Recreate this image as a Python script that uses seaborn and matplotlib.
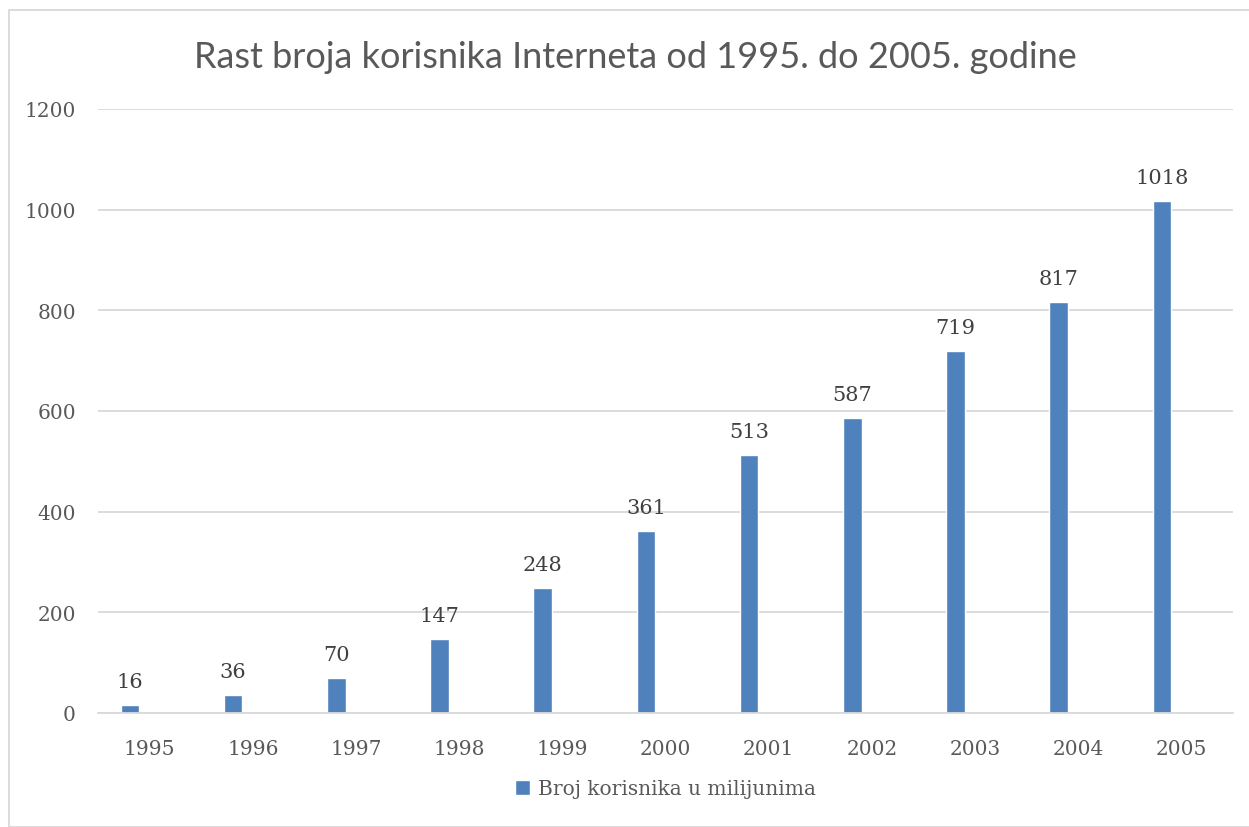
import matplotlib
matplotlib.use("Agg")
import matplotlib.pyplot as plt
import seaborn as sns
import pandas as pd
from matplotlib.patches import Rectangle

# Data
years = ["1995", "1996", "1997", "1998", "1999", "2000",
         "2001", "2002", "2003", "2004", "2005"]
users = [16, 36, 70, 147, 248, 361, 513, 587, 719, 817, 1018]
series_name = "Broj korisnika u milijunima"
title = "Rast broja korisnika Interneta od 1995. do 2005. godine"

df = pd.DataFrame({"Godina": years, "Korisnici": users})

BAR_COLOR = "#4f81bd"
TEXT_COLOR = "#595959"
GRID_COLOR = "#d9d9d9"

sns.set_style("white")
plt.rcParams["font.family"] = ["DejaVu Serif"]

fig = plt.figure(figsize=(12.49, 8.28), dpi=100)
ax = fig.add_axes([98 / 1249, 114 / 828, 1135 / 1249, 604 / 828])

bar_w = 0.18
sns.barplot(data=df, x="Godina", y="Korisnici", color=BAR_COLOR,
            width=bar_w, saturation=1, ax=ax, label=series_name)

# Excel-style offset: bars sit left of the category centre
for p in ax.patches:
    p.set_x(p.get_x() - 0.19)

for p, v in zip(ax.patches, users):
    ax.annotate(str(v), (p.get_x() + p.get_width() / 2, p.get_height()),
                xytext=(0, 10), textcoords="offset points",
                ha="center", va="bottom", fontsize=15, color="#404040")

ax.set_xlim(-0.5, len(years) - 0.5)
ax.set_ylim(0, 1200)
ax.set_yticks(range(0, 1201, 200))
ax.yaxis.grid(True, color=GRID_COLOR, linewidth=1.3)
ax.set_axisbelow(True)
for s in ["top", "right", "left"]:
    ax.spines[s].set_visible(False)
ax.spines["bottom"].set_color(GRID_COLOR)
ax.spines["bottom"].set_linewidth(1.3)
ax.tick_params(axis="both", length=0, labelsize=14.5, labelcolor=TEXT_COLOR)
ax.tick_params(axis="x", pad=19)
ax.tick_params(axis="y", pad=16)
ax.set_xlabel("")
ax.set_ylabel("")

fig.text(635 / 1249, 1 - 57 / 828, title, ha="center", va="center",
         fontsize=26, color=TEXT_COLOR, family=["Lato"])

leg = ax.legend(loc="center", bbox_to_anchor=(0.5, (828 - 790 - 114) / 604),
                frameon=False, fontsize=14.5, handlelength=0.7,
                handleheight=0.7, handletextpad=0.4)
for t in leg.get_texts():
    t.set_color(TEXT_COLOR)

fig.patches.append(Rectangle((9 / 1249, 0), 1.0, 1 - 11 / 828,
                             transform=fig.transFigure, fill=False,
                             edgecolor=GRID_COLOR, linewidth=1.3))

fig.savefig("out.png", dpi=100)
